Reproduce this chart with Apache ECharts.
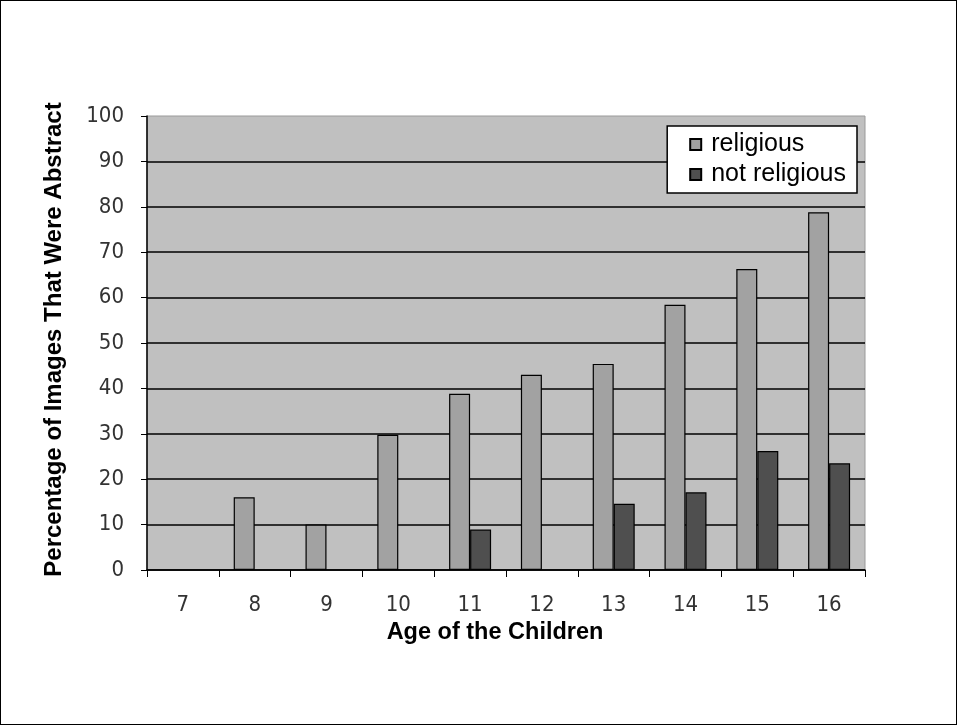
<!DOCTYPE html>
<html>
<head>
<meta charset="utf-8">
<script src="https://cdn.jsdelivr.net/npm/echarts@6/dist/echarts.min.js"></script>
<style>
html,body{margin:0;padding:0;background:#fff;}
#chart{width:957px;height:725px;box-sizing:border-box;border:1px solid #000;}
</style>
</head>
<body>
<div id="chart"></div>
<script>
var categories = ['7','8','9','10','11','12','13','14','15','16'];
var religious = [null, 16, 10, 29.8, 38.8, 43, 45.4, 58.4, 66.3, 78.8];
var notReligious = [null, null, null, null, 8.9, null, 14.6, 17.1, 26.2, 23.5];
var yTicks = [0, 100, 10];

// pick a narrow font for tick labels if one is installed
function hasFont(name) {
  var c = document.createElement('canvas').getContext('2d');
  c.font = '40px monospace';
  var w0 = c.measureText('0123456789abc').width;
  c.font = '40px "' + name + '", monospace';
  return Math.abs(c.measureText('0123456789abc').width - w0) > 0.5;
}
var narrow = hasFont('Liberation Sans Narrow') ? "'Liberation Sans Narrow'" :
             (hasFont('DejaVu Sans Condensed') ? "'DejaVu Sans Condensed'" : "'Liberation Sans'");
var tickSize = narrow === "'Liberation Sans Narrow'" ? 23 : 22;
var boldFont = "'Liberation Sans', Arial, sans-serif";

var chart = echarts.init(document.getElementById('chart'), null, {renderer: 'canvas'});
chart.setOption({
  animation: false,
  backgroundColor: '#fff',
  grid: {left: 146, right: 91, top: 115, bottom: 154, show: true,
         backgroundColor: '#c0c0c0', borderColor: '#9a9a9a', borderWidth: 1},
  legend: {
    orient: 'vertical', right: 99, top: 125,
    padding: [6, 11, 6, 22],
    backgroundColor: '#fff', borderColor: '#000', borderWidth: 1.5,
    icon: 'rect',
    itemWidth: 11, itemHeight: 11, itemGap: 5,
    textStyle: {fontSize: 25, color: '#000', fontFamily: boldFont, padding: [0, 0, 0, 5]},
    data: ['religious', 'not religious']
  },
  xAxis: {
    type: 'category', data: categories,
    name: 'Age of the Children', nameLocation: 'middle', nameGap: 44,
    nameTextStyle: {fontSize: 23.5, fontWeight: 'bold', color: '#000', fontFamily: boldFont, padding: [0, 22, 0, 0]},
    axisLine: {lineStyle: {color: '#000', width: 1.5}},
    axisTick: {show: true, alignWithLabel: false, length: 7, lineStyle: {color: '#000'}},
    axisLabel: {fontSize: tickSize, color: '#333', margin: 24, fontFamily: narrow},
    splitLine: {show: false}
  },
  yAxis: {
    type: 'value', min: yTicks[0], max: yTicks[1], interval: yTicks[2],
    name: 'Percentage of Images That Were Abstract', nameLocation: 'middle', nameGap: 81,
    nameTextStyle: {fontSize: 24, fontWeight: 'bold', color: '#000', fontFamily: boldFont, padding: [0, 0, 0, 7]},
    axisLine: {show: true, lineStyle: {color: '#000', width: 1.5}},
    axisTick: {show: true, length: 6, lineStyle: {color: '#000'}},
    axisLabel: {fontSize: tickSize, color: '#333', margin: 23, fontFamily: narrow},
    splitLine: {show: true, showMaxLine: false, lineStyle: {color: '#000', width: 1.5}}
  },
  series: [
    {name: 'religious', type: 'bar', data: religious, barWidth: 21, barGap: '0%',
     itemStyle: {color: '#a2a2a2', borderColor: '#000', borderWidth: 1.2}},
    {name: 'not religious', type: 'bar', data: notReligious, barWidth: 21, barGap: '0%',
     itemStyle: {color: '#4f4f4f', borderColor: '#000', borderWidth: 1.2}}
  ]
});
</script>
</body>
</html>
